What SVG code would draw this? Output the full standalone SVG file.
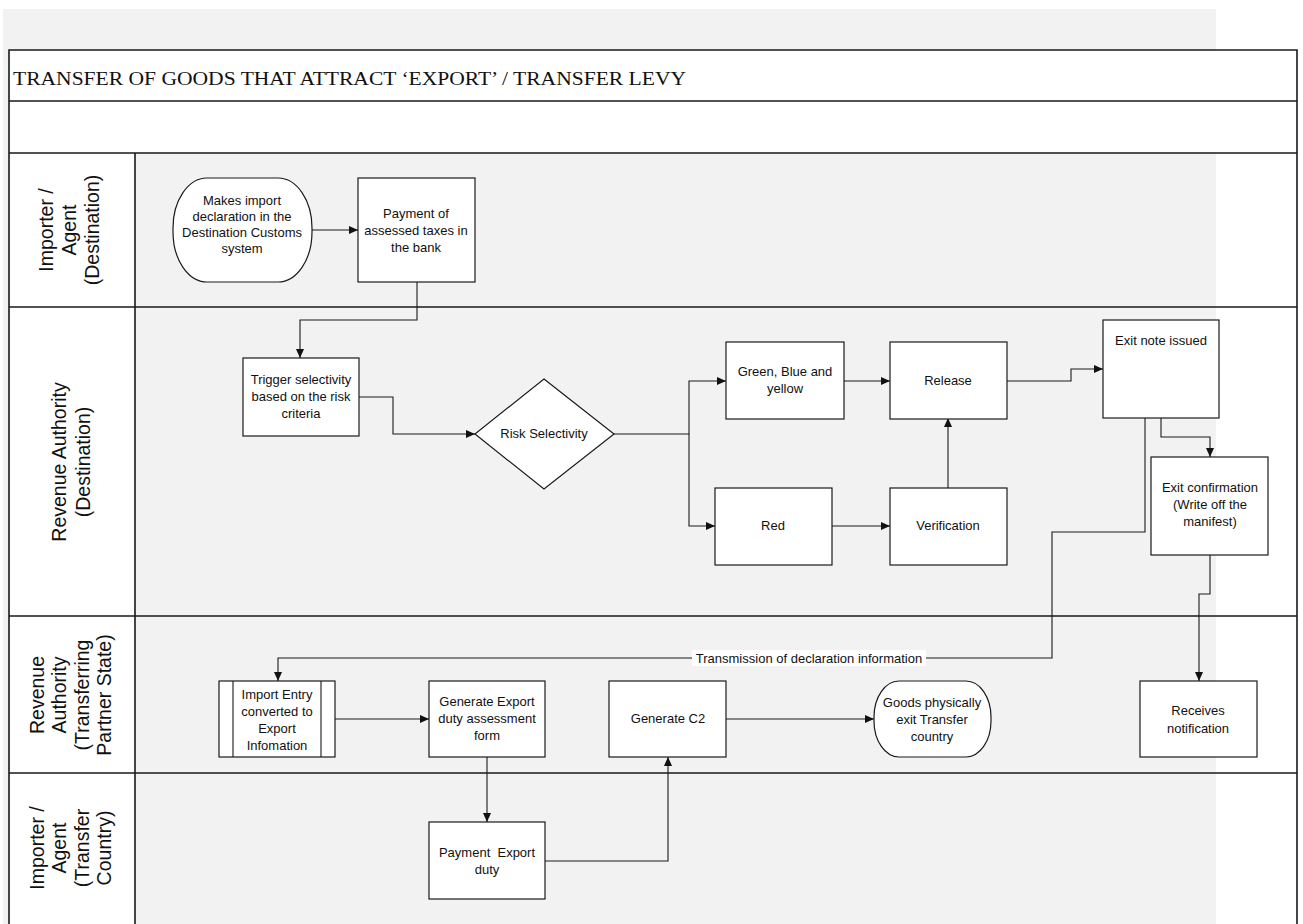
<svg xmlns="http://www.w3.org/2000/svg" width="1303" height="924" viewBox="0 0 1303 924">
<style>
.frame{fill:none;stroke:#1a1a1a;stroke-width:1.6}
.node{fill:#ffffff;stroke:#1a1a1a;stroke-width:1.2}
.conn{fill:none;stroke:#1a1a1a;stroke-width:1.1}
.t{font-family:"Liberation Sans",Arial,sans-serif;font-size:13px;fill:#111;text-anchor:middle}
.lane{font-family:"Liberation Sans",Arial,sans-serif;font-size:19.5px;fill:#111;text-anchor:middle}
.title{font-family:"Liberation Serif","Times New Roman",serif;font-size:18px;fill:#111}
</style>
<defs>
<marker id="arr" markerUnits="userSpaceOnUse" markerWidth="9" markerHeight="8" refX="9" refY="4" orient="auto">
<path d="M0,0 L9,4 L0,8 z" fill="#111"/>
</marker>
</defs>
<rect x="0" y="0" width="1303" height="924" fill="#ffffff"/>
<rect x="3" y="9" width="1213" height="915" fill="#f2f2f2"/>
<g id="frame">
<rect x="9" y="50" width="1288" height="103" fill="#ffffff"/>
<rect x="9" y="153" width="126" height="771" fill="#ffffff"/>
<path class="frame" d="M9,930 V50 H1297 V930 M9,101 H1297 M9,153 H1297 M9,307 H1297 M9,616 H1297 M9,773 H1297 M135,153 V930"/>
<text class="title" x="13" y="85" textLength="673" lengthAdjust="spacingAndGlyphs">TRANSFER OF GOODS THAT ATTRACT ‘EXPORT’ / TRANSFER LEVY</text>
</g>
<g id="lane-labels">
<text class="lane" transform="translate(72,230) rotate(-90)"><tspan x="0" y="-19">Importer /</tspan><tspan x="0" y="4">Agent</tspan><tspan x="0" y="27">(Destination)</tspan></text>
<text class="lane" transform="translate(72,462) rotate(-90)"><tspan x="0" y="-6">Revenue Authority</tspan><tspan x="0" y="18">(Destination)</tspan></text>
<text class="lane" transform="translate(72,695) rotate(-90)"><tspan x="0" y="-28">Revenue</tspan><tspan x="0" y="-6">Authority</tspan><tspan x="0" y="17">(Transferring</tspan><tspan x="0" y="39">Partner State)</tspan></text>
<text class="lane" transform="translate(72,848) rotate(-90)"><tspan x="0" y="-28">Importer /</tspan><tspan x="0" y="-6">Agent</tspan><tspan x="0" y="17">(Transfer</tspan><tspan x="0" y="39">Country)</tspan></text>
</g>
<g id="connectors">
<path class="conn" d="M312,230 H358" marker-end="url(#arr)"/>
<path class="conn" d="M417,282 V320 H300 V358" marker-end="url(#arr)"/>
<path class="conn" d="M359,397 H393 V434 H475" marker-end="url(#arr)"/>
<path class="conn" d="M614,434 H689 V381 H726" marker-end="url(#arr)"/>
<path class="conn" d="M689,434 V526 H715" marker-end="url(#arr)"/>
<path class="conn" d="M844,381 H890" marker-end="url(#arr)"/>
<path class="conn" d="M832,526 H890" marker-end="url(#arr)"/>
<path class="conn" d="M948,488 V418" marker-end="url(#arr)"/>
<path class="conn" d="M1007,381 H1071 V369 H1103" marker-end="url(#arr)"/>
<path class="conn" d="M1161,418 V437 H1210 V457" marker-end="url(#arr)"/>
<path class="conn" d="M1145,418 V532 H1052 V658 H278 V681" marker-end="url(#arr)"/>
<rect x="692" y="650" width="234" height="16" fill="#ffffff"/>
<text class="t" x="809" y="663">Transmission of declaration information</text>
<path class="conn" d="M1210,555 V594 H1199 V681" marker-end="url(#arr)"/>
<path class="conn" d="M335,719 H429" marker-end="url(#arr)"/>
<path class="conn" d="M726,719 H874" marker-end="url(#arr)"/>
<path class="conn" d="M487,757 V822" marker-end="url(#arr)"/>
<path class="conn" d="M545,861 H668 V757" marker-end="url(#arr)"/>
</g>
<g id="n-makes-import">
<rect class="node" x="173" y="178" width="139" height="104" rx="34" ry="50"/>
<text class="t"><tspan x="242" y="205">Makes import</tspan><tspan x="242" y="221">declaration in the</tspan><tspan x="242" y="237">Destination Customs</tspan><tspan x="242" y="253">system</tspan></text>
</g>
<g id="n-payment-taxes">
<rect class="node" x="358" y="178" width="117" height="104"/>
<text class="t"><tspan x="416" y="218">Payment of</tspan><tspan x="416" y="235">assessed taxes in</tspan><tspan x="416" y="252">the bank</tspan></text>
</g>
<g id="n-trigger">
<rect class="node" x="243" y="358" width="116" height="78"/>
<text class="t"><tspan x="301" y="384">Trigger selectivity</tspan><tspan x="301" y="401">based on the risk</tspan><tspan x="301" y="418">criteria</tspan></text>
</g>
<g id="n-risk">
<polygon class="node" points="544,379 614,434 544,489 475,434"/>
<text class="t" x="544" y="438">Risk Selectivity</text>
</g>
<g id="n-green">
<rect class="node" x="726" y="342" width="118" height="77"/>
<text class="t"><tspan x="785" y="376">Green, Blue and</tspan><tspan x="785" y="393">yellow</tspan></text>
</g>
<g id="n-release">
<rect class="node" x="890" y="342" width="117" height="77"/>
<text class="t" x="948" y="385">Release</text>
</g>
<g id="n-red">
<rect class="node" x="715" y="488" width="117" height="77"/>
<text class="t" x="773" y="530">Red</text>
</g>
<g id="n-verification">
<rect class="node" x="890" y="488" width="117" height="77"/>
<text class="t" x="948" y="530">Verification</text>
</g>
<g id="n-exit-note">
<rect class="node" x="1103" y="320" width="116" height="98"/>
<text class="t" x="1161" y="345">Exit note issued</text>
</g>
<g id="n-exit-confirmation">
<rect class="node" x="1151" y="457" width="117" height="98"/>
<text class="t"><tspan x="1210" y="492">Exit confirmation</tspan><tspan x="1210" y="509">(Write off the</tspan><tspan x="1210" y="526">manifest)</tspan></text>
</g>
<g id="n-import-entry">
<rect class="node" x="219" y="681" width="116" height="76"/>
<path class="conn" d="M233,681 V757 M321,681 V757"/>
<text class="t"><tspan x="277" y="699">Import Entry</tspan><tspan x="277" y="716">converted to</tspan><tspan x="277" y="733">Export</tspan><tspan x="277" y="750">Infomation</tspan></text>
</g>
<g id="n-generate-export">
<rect class="node" x="429" y="681" width="116" height="76"/>
<text class="t"><tspan x="487" y="706">Generate Export</tspan><tspan x="487" y="723">duty assessment</tspan><tspan x="487" y="740">form</tspan></text>
</g>
<g id="n-generate-c2">
<rect class="node" x="609" y="681" width="117" height="76"/>
<text class="t" x="668" y="723">Generate C2</text>
</g>
<g id="n-goods-exit">
<rect class="node" x="874" y="681" width="117" height="76" rx="25" ry="36"/>
<text class="t"><tspan x="932" y="707">Goods physically</tspan><tspan x="932" y="724">exit Transfer</tspan><tspan x="932" y="741">country</tspan></text>
</g>
<g id="n-receives">
<rect class="node" x="1140" y="681" width="117" height="76"/>
<text class="t"><tspan x="1198" y="715">Receives</tspan><tspan x="1198" y="733">notification</tspan></text>
</g>
<g id="n-payment-export">
<rect class="node" x="429" y="822" width="116" height="77"/>
<text class="t"><tspan x="487" y="857" xml:space="preserve">Payment  Export</tspan><tspan x="487" y="874">duty</tspan></text>
</g>
</svg>
